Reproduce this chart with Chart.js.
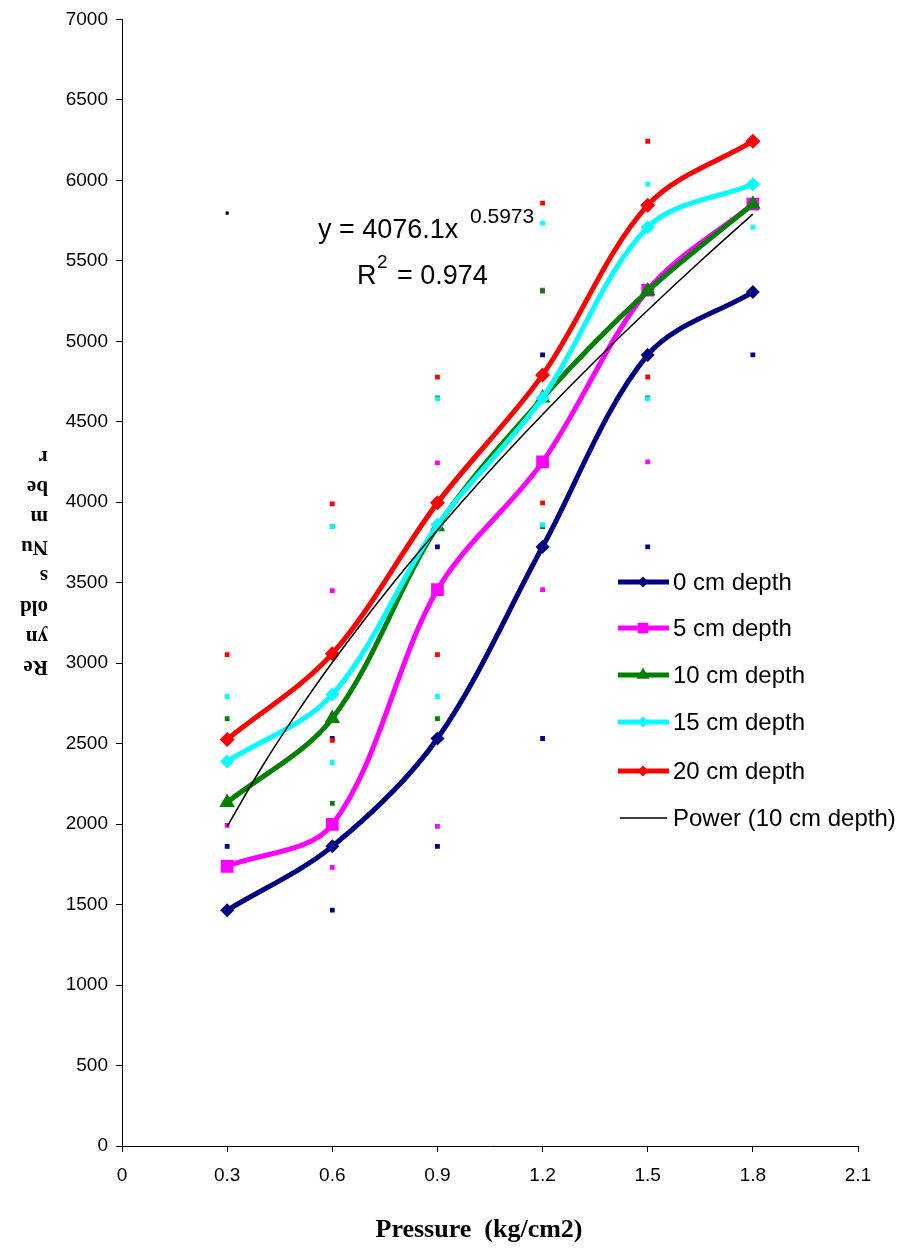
<!DOCTYPE html>
<html>
<head>
<meta charset="utf-8">
<script src="https://cdn.jsdelivr.net/npm/chart.js@4.4.1/dist/chart.umd.min.js"></script>
<style>
html,body{margin:0;padding:0;background:#fff;}
#wrap{width:899px;height:1248px;}
</style>
</head>
<body>
<div id="wrap"><canvas id="c" width="899" height="1248"></canvas></div>
<script>
// ---- data ----
const pressure = [0.3, 0.6, 0.9, 1.2, 1.5, 1.8];
const depth0  = [1465, 1862, 2532, 3723, 4915, 5306];
const depth5  = [1738, 1998, 3457, 4251, 5318, 5852];
const depth10 = [2135, 2656, 3848, 4648, 5312, 5852];
const depth15 = [2389, 2805, 3860, 4648, 5709, 5976];
const depth20 = [2526, 3059, 3996, 4791, 5846, 6243];
// error-bar end marks (upper / lower)
const err0Up   = [1862, 2532, 3723, 4915, 5306, null];
const err0Down = [null, 1465, 1862, 2532, 3723, 4915];
const err5Up   = [1992, 3450, 4245, 5318, 5852, null];
const err5Down = [null, 1731, 1986, 3457, 4251, 5318];
const err10Up   = [2656, 3848, 4648, 5312, 5852, null];
const err10Down = [null, 2129, 2656, 3848, 4648, 5312];
const err15Up   = [2793, 3848, 4642, 5734, 5976, null];
const err15Down = [null, 2383, 2793, 3860, 4642, 5709];
const err20Up   = [3053, 3990, 4777, 5858, 6243, null];
const err20Down = [null, 2520, 3053, 3996, 4778, 5846];
// power trendline y = 4076.1 x^0.5973, sampled values
const trendX = [0.3, 0.4, 0.5, 0.6, 0.75, 0.9, 1.05, 1.2, 1.35, 1.5, 1.65, 1.8];
const trendY = [1986, 2358, 2694, 3004, 3433, 3827, 4197, 4545, 4877, 5193, 5497, 5790];
const strayDot = [{x: 0.3, y: 5796}];
const xTicks = [0, 0.3, 0.6, 0.9, 1.2, 1.5, 1.8, 2.1];
const seriesNames = ['0 cm depth', '5 cm depth', '10 cm depth', '15 cm depth', '20 cm depth'];
const trendName = 'Power (10 cm depth)';
const eqMain = 'y = 4076.1x';
const eqExp = '0.5973';
const r2Text = '= 0.974';
const yTitleChunks = ['Re', 'yn', 'old', 's', 'Nu', 'm', 'be', 'r'];
const xTitle = 'Pressure  (kg/cm2)';

const colors = ['#000080', '#ff00ff', '#008000', '#00ffff', '#ff0000'];
const styles = ['rectRot', 'rect', 'triangle', 'rectRot', 'rectRot'];
const radii = [7, 9, 9, 7, 7.5];
const legRadii = [5.5, 7.5, 7.5, 5.5, 5.5];
const seriesData = [depth0, depth5, depth10, depth15, depth20];
const upData = [err0Up, err5Up, err10Up, err15Up, err20Up];
const downData = [err0Down, err5Down, err10Down, err15Down, err20Down];

const pts = (arr) => pressure.map((x, i) => ({x, y: arr[i]})).filter(p => p.y !== null);

const datasets = [];
seriesData.forEach((d, i) => {
  datasets.push({
    label: seriesNames[i], data: pts(d),
    borderColor: colors[i], backgroundColor: colors[i],
    borderWidth: 5, tension: 0.33, showLine: true,
    pointStyle: styles[i], pointRadius: radii[i], pointBorderWidth: 0,
    order: 5 - i
  });
});
seriesData.forEach((d, i) => {
  datasets.push({
    label: 'err' + i, data: pts(upData[i]).concat(pts(downData[i])),
    showLine: false, backgroundColor: colors[i], borderColor: colors[i],
    pointStyle: 'rect', pointRadius: 3.4, pointBorderWidth: 0, order: 24 - i
  });
});
datasets.push({
  label: 'stray', data: strayDot, showLine: false, backgroundColor: '#000', borderColor: '#000',
  pointStyle: 'rect', pointRadius: 2.2, pointBorderWidth: 0, order: 30
});
datasets.push({
  label: trendName, data: trendX.map((x, i) => ({x, y: trendY[i]})),
  borderColor: '#000', borderWidth: 1.5, showLine: true, tension: 0.4,
  pointRadius: 0, order: 0
});

const textPlugin = {
  id: 'texts',
  afterDraw(chart) {
    const ctx = chart.ctx;
    ctx.save();
    ctx.fillStyle = '#000';
    // y title, upside-down chunks
    ctx.font = 'bold 21px "Liberation Serif", serif';
    ctx.textBaseline = 'middle';
    ctx.textAlign = 'left';
    const yc = [666, 636, 606, 575, 546, 516, 486, 456];
    yTitleChunks.forEach((t, i) => {
      ctx.save();
      ctx.translate(48, yc[i]);
      ctx.rotate(Math.PI);
      ctx.fillText(t, 0, 0);
      ctx.restore();
    });
    // x title
    ctx.textAlign = 'center';
    ctx.font = 'bold 26px "Liberation Serif", serif';
    ctx.fillText(xTitle, 479, 1230);
    // equation
    ctx.textAlign = 'left';
    ctx.textBaseline = 'alphabetic';
    ctx.font = '27px "Liberation Sans", Arial, sans-serif';
    ctx.fillText(eqMain, 318, 238);
    ctx.font = '21px "Liberation Sans", Arial, sans-serif';
    ctx.fillText(eqExp, 470, 223);
    ctx.font = '27px "Liberation Sans", Arial, sans-serif';
    ctx.fillText('R', 357, 284);
    ctx.font = '19px "Liberation Sans", Arial, sans-serif';
    ctx.fillText('2', 377, 268);
    ctx.font = '27px "Liberation Sans", Arial, sans-serif';
    ctx.fillText(r2Text, 397, 284);
    // legend
    const ly = [582, 628, 675, 722, 771, 818];
    ctx.font = '24px "Liberation Sans", Arial, sans-serif';
    ctx.textBaseline = 'middle';
    for (let i = 0; i < 5; i++) {
      ctx.strokeStyle = colors[i];
      ctx.lineWidth = 5;
      ctx.beginPath(); ctx.moveTo(618, ly[i]); ctx.lineTo(669, ly[i]); ctx.stroke();
      ctx.fillStyle = colors[i];
      Chart.helpers.drawPoint(ctx, {pointStyle: styles[i], radius: legRadii[i], borderWidth: 0}, 643, ly[i]);
      ctx.fillStyle = '#000';
      ctx.fillText(seriesNames[i], 673, ly[i] + 1);
    }
    ctx.strokeStyle = '#000'; ctx.lineWidth = 1.5;
    ctx.beginPath(); ctx.moveTo(620, ly[5]); ctx.lineTo(667, ly[5]); ctx.stroke();
    ctx.fillText(trendName, 673, ly[5] + 1);
    ctx.restore();
  }
};

new Chart(document.getElementById('c'), {
  type: 'scatter',
  data: {datasets},
  options: {
    responsive: false, animation: false, devicePixelRatio: 1,
    layout: {padding: {top: 18, right: 41, left: 0, bottom: 0}},
    plugins: {legend: {display: false}, tooltip: {enabled: false}},
    scales: {
      x: {
        type: 'linear', min: 0, max: 2.1,
        afterBuildTicks: (s) => { s.ticks = xTicks.map(v => ({value: v})); },
        afterFit: (s) => { s.height = 102; },
        grid: {drawOnChartArea: false, drawTicks: true, tickLength: 6, color: '#000'},
        border: {display: true, color: '#000', width: 1},
        ticks: {color: '#000', padding: 12, maxRotation: 0, autoSkip: false,
          font: {family: '"Liberation Sans", Arial, sans-serif', size: 19},
          callback: (v) => v === 0 ? '0' : Number(v).toFixed(1)}
      },
      y: {
        min: 0, max: 7000,
        ticks: {stepSize: 500, color: '#000', padding: 8,
          font: {family: '"Liberation Sans", Arial, sans-serif', size: 19},
          callback: (v) => String(v)},
        afterFit: (s) => { s.width = 122; },
        grid: {drawOnChartArea: false, drawTicks: true, tickLength: 6, color: '#000'},
        border: {display: true, color: '#000', width: 1}
      }
    }
  },
  plugins: [textPlugin]
});
</script>
</body>
</html>
